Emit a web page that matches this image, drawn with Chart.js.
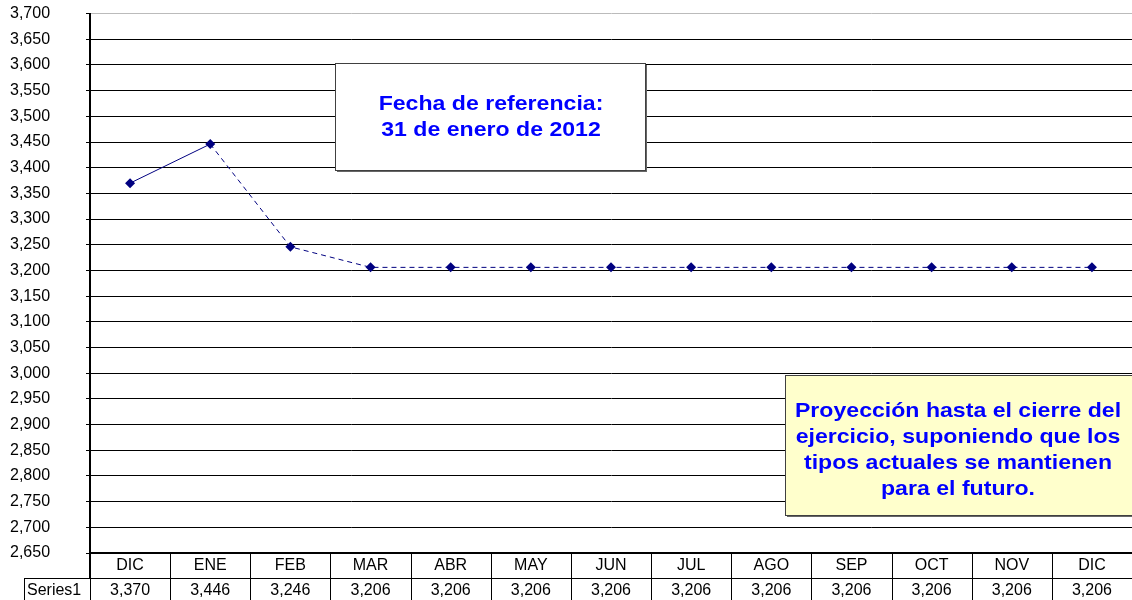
<!DOCTYPE html>
<html>
<head>
<meta charset="utf-8">
<script src="https://cdn.jsdelivr.net/npm/chart.js@4.4.1/dist/chart.umd.min.js"></script>
<style>
  html, body { margin: 0; padding: 0; background: #fff; }
  #wrap { width: 1132px; height: 600px; position: relative; }
</style>
</head>
<body>
<div id="wrap"><canvas id="grafico"></canvas></div>
<script>
// Datos del gráfico
const meses = ['DIC', 'ENE', 'FEB', 'MAR', 'ABR', 'MAY', 'JUN', 'JUL', 'AGO', 'SEP', 'OCT', 'NOV', 'DIC'];
const serie1 = [3370, 3446, 3246, 3206, 3206, 3206, 3206, 3206, 3206, 3206, 3206, 3206, 3206];
const nombreSerie = 'Series1';
const ejeMin = 2650;
const ejeMax = 3700;
const ejePaso = 50;

const notaFecha = ['Fecha de referencia:', '31 de enero de 2012'];
const notaProyeccion = ['Proyección hasta el cierre del', 'ejercicio, suponiendo que los', 'tipos actuales se mantienen', 'para el futuro.'];

const FUENTE = '"Liberation Sans", Arial, sans-serif';
const fmt = v => v.toLocaleString('en-US');

// Tabla de datos bajo el gráfico + cuadros de texto
const tablaPlugin = {
    id: 'tablaDatos',
    afterDraw(chart) {
        const ctx = chart.ctx;
        const area = chart.chartArea;
        const x = chart.scales.x;
        const ancho = x.getPixelForValue(1) - x.getPixelForValue(0);
        const fila1 = area.bottom;
        const fila2 = area.bottom + 25;
        const fin = area.bottom + 50;

        ctx.save();
        ctx.strokeStyle = '#000';
        ctx.lineWidth = 1;
        ctx.beginPath();
        // línea entre filas
        ctx.moveTo(24, fila2 + 0.5);
        ctx.lineTo(chart.width, fila2 + 0.5);
        // borde izquierdo de Series1
        ctx.moveTo(24.5, fila2);
        ctx.lineTo(24.5, fin);
        meses.forEach((m, i) => {
            const bx = Math.round(x.getPixelForValue(i) - ancho / 2) + 0.5;
            ctx.moveTo(bx, fila1);
            ctx.lineTo(bx, fin);
        });
        ctx.stroke();

        ctx.fillStyle = '#000';
        ctx.font = '16px ' + FUENTE;
        ctx.textAlign = 'center';
        ctx.textBaseline = 'middle';
        meses.forEach((m, i) => {
            const cx = x.getPixelForValue(i);
            ctx.fillText(m, cx, fila1 + 13);
            ctx.fillText(fmt(serie1[i]), cx, fila2 + 13);
        });
        ctx.textAlign = 'left';
        ctx.fillText(nombreSerie, 27, fila2 + 13);

        // eje vertical y línea base gruesos
        ctx.lineWidth = 2;
        ctx.beginPath();
        ctx.moveTo(area.left, area.top);
        ctx.lineTo(area.left, fila2);
        ctx.moveTo(area.left, area.bottom);
        ctx.lineTo(chart.width, area.bottom);
        ctx.stroke();

        cuadro(ctx, 335, 63, 310, 107, '#ffffff', notaFecha, 491, 104);
        cuadro(ctx, 785, 375, 360, 140, '#ffffcc', notaProyeccion, 958, 411);
        ctx.restore();
    }
};

function cuadro(ctx, x, y, w, h, fondo, lineas, cx, cy) {
    ctx.fillStyle = '#666';
    ctx.fillRect(x + 2, y + 2, w, h);
    ctx.fillStyle = fondo;
    ctx.fillRect(x, y, w, h);
    ctx.strokeStyle = '#404040';
    ctx.lineWidth = 1;
    ctx.strokeRect(x + 0.5, y + 0.5, w, h);
    ctx.fillStyle = '#0000ff';
    ctx.font = 'bold 21px ' + FUENTE;
    ctx.textAlign = 'center';
    ctx.textBaseline = 'middle';
    lineas.forEach((l, i) => {
        ctx.save();
        ctx.translate(cx, cy + i * 26);
        ctx.scale(1.1, 1);
        ctx.fillText(l, 0, 0);
        ctx.restore();
    });
}

new Chart(document.getElementById('grafico'), {
    type: 'line',
    data: {
        labels: meses,
        datasets: [{
            label: nombreSerie,
            data: serie1,
            borderColor: '#000080',
            backgroundColor: '#000080',
            borderWidth: 1,
            pointStyle: 'rectRot',
            pointRadius: 5,
            pointBorderWidth: 0,
            fill: false,
            tension: 0,
            segment: {
                borderDash: c => c.p0DataIndex >= 1 ? [5, 4] : undefined
            }
        }]
    },
    options: {
        responsive: true,
        maintainAspectRatio: false,
        animation: false,
        layout: { autoPadding: false, padding: { top: 13, bottom: 47, left: 10, right: -3 } },
        plugins: {
            legend: { display: false },
            tooltip: { enabled: false }
        },
        scales: {
            x: {
                display: false,
                offset: true
            },
            y: {
                min: ejeMin,
                max: ejeMax,
                afterFit: s => { s.width = 80; },
                ticks: {
                    stepSize: ejePaso,
                    padding: 4,
                    crossAlign: 'far',
                    color: '#000',
                    font: { family: FUENTE, size: 16 },
                    callback: v => fmt(v)
                },
                grid: {
                    color: c => c.tick && c.tick.value === ejeMax ? '#bbbbbb' : '#000',
                    tickColor: '#000',
                    tickLength: 4,
                    lineWidth: 1
                },
                border: { color: '#000', width: 2 }
            }
        }
    },
    plugins: [tablaPlugin]
});
</script>
</body>
</html>
